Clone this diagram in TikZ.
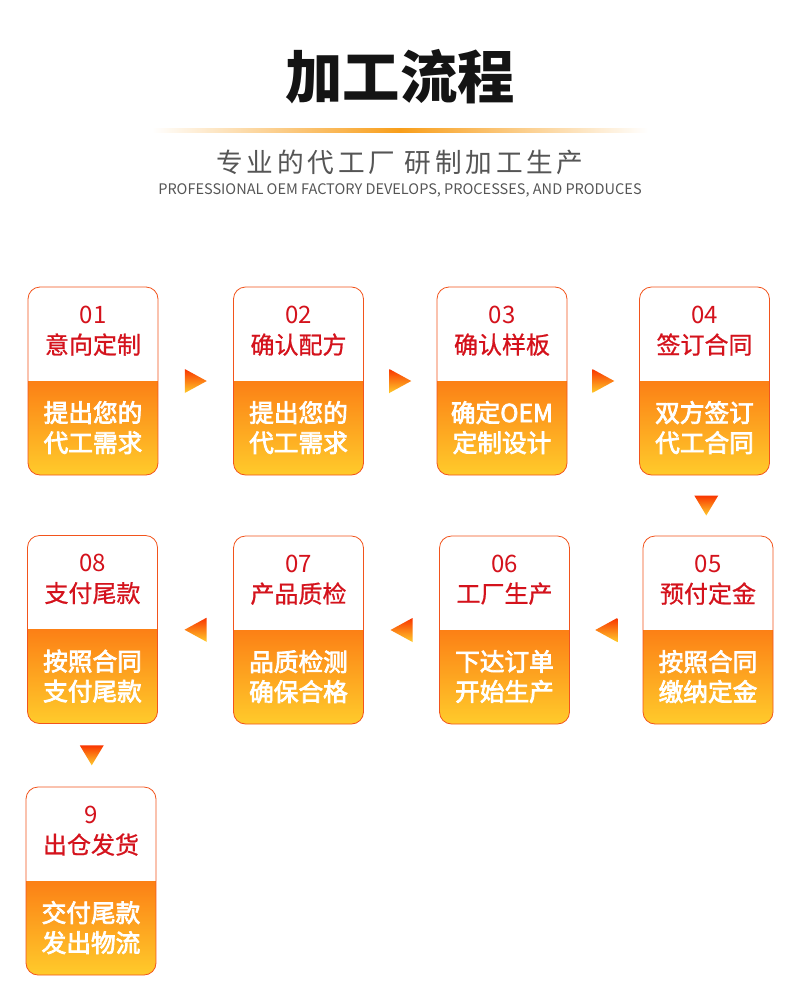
\documentclass[tikz,border=0pt]{standalone}
\usepackage{fontspec}
\setmainfont{Noto Sans CJK SC}
\usetikzlibrary{positioning,calc}
\definecolor{cardred}{HTML}{D4121C}
\definecolor{gradtop}{HTML}{F93500}
\definecolor{gradmid}{HTML}{FF700E}
\definecolor{gradbot}{HTML}{FFCB2B}
\definecolor{cardline}{HTML}{F2541C}
\definecolor{subgray}{HTML}{555555}
\definecolor{barorange}{HTML}{F89E1A}
\tikzset{
  card/.style={draw=cardline,line width=0.6pt,rounded corners=9pt,fill=white,
    minimum width=97.5pt,minimum height=141pt,inner sep=0pt,
    path picture={\shade[sharp corners,top color=gradtop,middle color=gradmid,bottom color=gradbot]
      (path picture bounding box.south west) rectangle (path picture bounding box.east);}},
  numtxt/.style={font=\fontsize{18}{20}\selectfont,text=cardred,inner sep=0pt},
  ttltxt/.style={font=\fontsize{18}{20}\selectfont\addfontfeature{FakeBold=0.8},text=cardred,inner sep=0pt},
  bodytxt/.style={font=\fontsize{18.5}{22.5}\selectfont\addfontfeature{FakeBold=3},text=white,
    align=center,inner sep=0pt},
  trishade/.style={top color=gradtop,bottom color=gradbot},
  % ---- flow arrow heads ----
  rtri/.pic={\shade[trishade] (-11,-12) -- (11,0) -- (-11,12) -- cycle;},
  ltri/.pic={\shade[trishade] (11,-12) -- (-11,0) -- (11,12) -- cycle;},
  dtri/.pic={\shade[trishade] (-12,-10) -- (12,-10) -- (0,10) -- cycle;},
}
\begin{document}
\begin{tikzpicture}[x=0.75pt,y=-0.75pt]
  \fill[white] (0,0) rectangle (800,1006);
  % heading
  \node[font=\fontsize{43}{46}\selectfont\bfseries,text=black!92] (title) at (400,77) {加工流程};
  \shade[left color=white,right color=white,middle color=barorange] (152,128) rectangle (648,132);
  \node[font=\fontsize{20}{22}\selectfont\addfontfeature{LetterSpace=14},text=subgray] (subcn) at (400,162) {专业的代工厂 研制加工生产};
  \node[font=\fontsize{10.9}{12}\selectfont,text=subgray] (suben) at (400,190) {PROFESSIONAL OEM FACTORY DEVELOPS, PROCESSES, AND PRODUCES};
  % process cards
  \foreach \n/\x/\y/\num/\ttl/\la/\lb in {
      1/93/381/01/意向定制/提出您的/代工需求,
      2/298.5/381/02/确认配方/提出您的/代工需求,
      3/502/381/03/确认样板/确定OEM/定制设计,
      4/704.5/381/04/签订合同/双方签订/代工合同,
      5/708/630/05/预付定金/按照合同/缴纳定金,
      6/504.5/630/06/工厂生产/下达订单/开始生产,
      7/298.5/630/07/产品质检/品质检测/确保合格,
      8/92.5/629.5/08/支付尾款/按照合同/支付尾款,
      9/91/881/9/出仓发货/交付尾款/发出物流}{
    \node[card] (card\n) at (\x,\y) {};
    \node[numtxt] (num\n) at ($(card\n.north)+(0,28)$) {\num};
    \node[ttltxt] (ttl\n) at ($(card\n.north)+(0,58)$) {\ttl};
    \node[bodytxt] (body\n) at ($(card\n.north)+(0,141)$) {\la\\\lb};
  }
  % arrows between cards
  \pic at ($(card1.east)!0.5!(card2.west)$) {rtri};
  \pic at ($(card2.east)!0.5!(card3.west)$) {rtri};
  \pic at ($(card3.east)!0.5!(card4.west)$) {rtri};
  \pic at ($(card4.south)!0.5!(card5.north)$) {dtri};
  \pic at ($(card5.west)!0.5!(card6.east)$) {ltri};
  \pic at ($(card6.west)!0.5!(card7.east)$) {ltri};
  \pic at ($(card7.west)!0.5!(card8.east)$) {ltri};
  \pic at ($(card8.south)!0.5!(card9.north)$) {dtri};
\end{tikzpicture}
\end{document}
